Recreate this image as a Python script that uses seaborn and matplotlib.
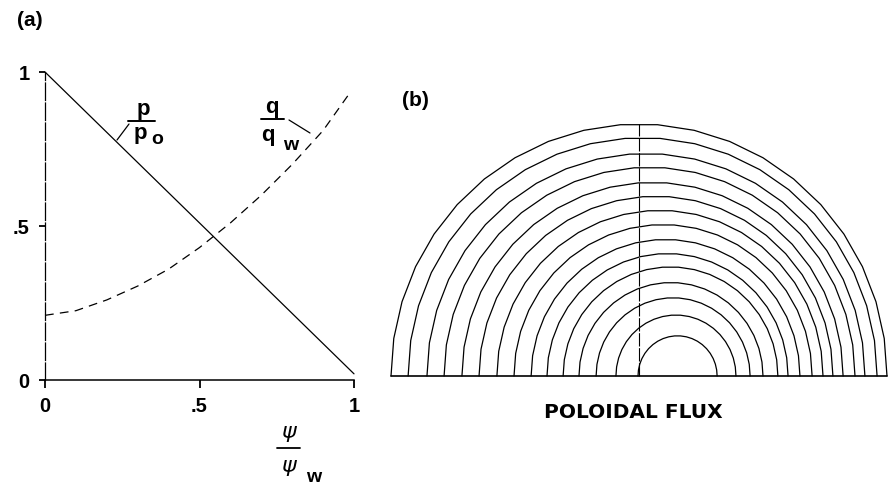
import numpy as np
import pandas as pd
import matplotlib
matplotlib.use("Agg")
import matplotlib.pyplot as plt
from matplotlib.lines import Line2D
import seaborn as sns

# (a) equilibrium profiles against normalised poloidal flux psi/psi_w
psi_p = [0.0, 1.0]
pressure = [1.0, 0.02]
psi_q = [0.0, 0.1, 0.2, 0.3, 0.4, 0.5, 0.6, 0.7, 0.8, 0.9, 0.985]
safety = [0.21, 0.225, 0.26, 0.305, 0.36, 0.43, 0.51, 0.60, 0.70, 0.81, 0.93]
tick_pos = [0.0, 0.5, 1.0]
tick_labels = ["0", ".5", "1"]

# (b) flux surfaces: midplane crossings of each surface, inner to outer,
# in units of the wall minor radius
ring_left = [-0.004, -0.093, -0.173, -0.242, -0.306, -0.371, -0.435, -0.504,
             -0.573, -0.645, -0.714, -0.786, -0.855, -0.931, -1.0]
ring_right = [0.315, 0.391, 0.448, 0.500, 0.560, 0.601, 0.649, 0.698,
              0.742, 0.782, 0.823, 0.871, 0.911, 0.960, 1.0]

sns.set_theme(style="white")
plt.rcParams["font.family"] = ["Liberation Sans", "DejaVu Sans"]
plt.rcParams["font.weight"] = "bold"
plt.rcParams["text.color"] = "black"
plt.rcParams["xtick.color"] = "black"
plt.rcParams["ytick.color"] = "black"

W, H = 888, 491
fig = plt.figure(figsize=(W / 100, H / 100), dpi=100)


def fx(x, y):
    return x / W, 1 - y / H


def fig_line(x0, y0, x1, y1, lw=0.9):
    a, b = fx(x0, y0)
    c, d = fx(x1, y1)
    fig.add_artist(Line2D([a, c], [b, d], color="black", lw=lw))


# ---------------- panel (a) ----------------
ax = fig.add_axes([45 / W, 1 - 380 / H, 309 / W, 308 / H])
df_p = pd.DataFrame({"psi": psi_p, "val": pressure})
df_q = pd.DataFrame({"psi": psi_q, "val": safety})
sns.lineplot(data=df_p, x="psi", y="val", ax=ax, color="black", lw=0.9)
sns.lineplot(data=df_q, x="psi", y="val", ax=ax, color="black", lw=0.9,
             linestyle=(0, (7, 5)))
ax.set_xlim(0, 1)
ax.set_ylim(0, 1)
ax.set_xlabel("")
ax.set_ylabel("")
for s in ["top", "right"]:
    ax.spines[s].set_visible(False)
ax.spines["bottom"].set_linewidth(1.1)
ax.spines["bottom"].set_color("black")
ax.spines["left"].set_linewidth(0.9)
ax.spines["left"].set_color("black")
ax.spines["left"].set_linestyle((0, (14, 2)))
ax.set_xticks(tick_pos)
ax.set_xticklabels(tick_labels)
ax.set_yticks(tick_pos)
ax.set_yticklabels(tick_labels)
ax.tick_params(axis="x", direction="out", length=6, width=1.3, pad=6,
               labelsize=14.5, colors="black", bottom=True)
ax.tick_params(axis="y", direction="out", length=4, width=1.3, pad=7,
               labelsize=14.5, colors="black", left=True)
for lab in ax.get_xticklabels() + ax.get_yticklabels():
    lab.set_fontweight("bold")
for l in ax.lines:
    l.set_clip_on(False)

# panel label and curve labels
fig.text(*fx(30, 20), "(a)", fontsize=15, fontweight="bold",
         ha="center", va="center")

# p / p_o
fig.text(*fx(143, 109), "p", fontsize=16, fontweight="bold", ha="center", va="center")
fig_line(128, 121, 155, 121, lw=1.4)
fig.text(*fx(140, 133), "p", fontsize=16, fontweight="bold", ha="center", va="center")
fig.text(*fx(157, 139), "o", fontsize=14, fontweight="bold", ha="center", va="center")
fig_line(117, 140, 129, 124)

# q / q_w
fig.text(*fx(272, 108), "q", fontsize=16, fontweight="bold", ha="center", va="center")
fig_line(261, 119, 284, 119, lw=1.4)
fig.text(*fx(268, 135), "q", fontsize=16, fontweight="bold", ha="center", va="center")
fig.text(*fx(291, 146), "w", fontsize=14, fontweight="bold", ha="center", va="center")
fig_line(289, 120, 310, 133)

# psi / psi_w
fig.text(*fx(288, 432), "ψ", fontsize=16, style="italic", fontweight="normal",
         ha="center", va="center", family=["DejaVu Sans"])
fig_line(277, 448, 300, 448, lw=1.3)
fig.text(*fx(288, 466), "ψ", fontsize=16, style="italic", fontweight="normal",
         ha="center", va="center", family=["DejaVu Sans"])
fig.text(*fx(314, 478), "w", fontsize=14, fontweight="bold", ha="center", va="center")

# ---------------- panel (b) ----------------
bx = fig.add_axes([391 / W, 1 - 376 / H, 496 / W, 252 / H])
theta = np.linspace(0.0, np.pi, 22)
rows = []
for i, (lft, rgt) in enumerate(zip(ring_left, ring_right)):
    c = 0.5 * (lft + rgt)
    r = 0.5 * (rgt - lft)
    for t in theta:
        rows.append({"ring": i, "x": c + r * np.cos(t), "y": r * np.sin(t)})
rings = pd.DataFrame(rows)
sns.lineplot(data=rings, x="x", y="y", units="ring", estimator=None, sort=False,
             ax=bx, color="black", lw=0.9)
bx.plot([-1, 1], [0, 0], color="black", lw=1.2)
bx.plot([0, 0], [0, 1.0], color="black", lw=0.8, linestyle=(0, (12, 1.5)))
bx.set_xlim(-1, 1)
bx.set_ylim(0, 1)
bx.axis("off")
for l in bx.lines:
    l.set_clip_on(False)

fig.text(*fx(415, 100), "(b)", fontsize=15, fontweight="bold",
         ha="center", va="center")
fig.text(*fx(633, 412), "POLOIDAL FLUX", fontsize=14.5, fontweight="bold",
         ha="center", va="center", family=["DejaVu Sans"])

fig.savefig("out.png", dpi=100, facecolor="white")
